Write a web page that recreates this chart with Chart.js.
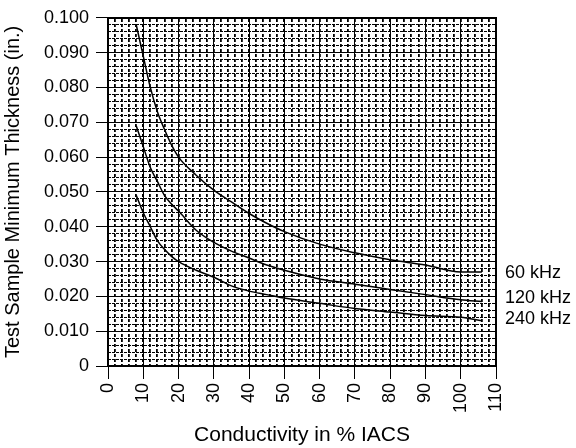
<!DOCTYPE html>
<html>
<head>
<meta charset="utf-8">
<script src="https://cdn.jsdelivr.net/npm/chart.js@4.4.1/dist/chart.umd.min.js"></script>
<style>
  body { margin: 0; background: #fff; }
</style>
</head>
<body>
<canvas id="thickChart" width="576" height="448"></canvas>
<script>
// conductivity (% IACS) sample points
var xVals = [8, 10, 12, 14, 16, 18, 20, 25, 30, 35, 40, 45, 50, 60, 70, 80, 90, 100, 106];
// minimum thickness (in.) for each frequency
var thick60 = [0.098, 0.089, 0.080, 0.073, 0.068, 0.0635, 0.060, 0.0548, 0.0505, 0.0471, 0.0438, 0.041, 0.0386, 0.035, 0.0325, 0.0305, 0.029, 0.027, 0.027];
var thick120 = [0.069, 0.063, 0.057, 0.053, 0.049, 0.0465, 0.0445, 0.039, 0.0355, 0.033, 0.031, 0.029, 0.0275, 0.025, 0.0235, 0.022, 0.0205, 0.019, 0.0185];
var thick240 = [0.049, 0.044, 0.040, 0.036, 0.0335, 0.0315, 0.030, 0.0275, 0.0255, 0.023, 0.0215, 0.0205, 0.0195, 0.018, 0.0165, 0.0155, 0.0145, 0.014, 0.013];
var seriesNames = ['60 kHz', '120 kHz', '240 kHz'];
// where the right-hand labels sit (y value)
var labelAt = [0.0267, 0.0194, 0.0136];

function pts(ys) {
    return xVals.map((x, i) => ({ x: x, y: ys[i] }));
}

function mkSet(ys) {
    return {
        data: pts(ys),
        borderColor: '#000',
        borderWidth: 1.5,
        pointRadius: 0,
        fill: false,
        cubicInterpolationMode: 'monotone'
    };
}

const font = 'Liberation Sans, Arial, sans-serif';

// labels at the right of the plot
const sideLabels = {
    id: 'sideLabels',
    afterDatasetsDraw(chart) {
        var c = chart.ctx;
        var yScale = chart.scales.y;
        c.save();
        c.fillStyle = '#000';
        c.font = '18px ' + font;
        c.textAlign = 'left';
        c.textBaseline = 'middle';
        seriesNames.forEach((n, i) => {
            c.fillText(n, chart.chartArea.right + 9, yScale.getPixelForValue(labelAt[i]));
        });
        c.restore();
    }
};

const ctx = document.getElementById('thickChart');
const lineChart = new Chart(ctx, {
    type: 'line',
    data: {
        datasets: [mkSet(thick60), mkSet(thick120), mkSet(thick240)]
    },
    plugins: [sideLabels],
    options: {
        responsive: false,
        animation: false,
        layout: { padding: { left: 0, right: 80, top: 13, bottom: 0 } },
        plugins: {
            legend: { display: false },
            tooltip: { enabled: false }
        },
        scales: {
            x: {
                type: 'linear',
                position: 'bottom',
                min: 0,
                max: 110,
                ticks: {
                    stepSize: 10,
                    minRotation: 90,
                    maxRotation: 90,
                    padding: 4,
                    color: '#000',
                    font: { size: 18, family: font }
                },
                grid: { color: '#000', lineWidth: 1, tickLength: 13, tickColor: '#000' },
                border: { display: true, color: '#000', width: 2 },
                title: {
                    display: true,
                    text: 'Conductivity in % IACS',
                    color: '#000',
                    font: { size: 21, family: font },
                    padding: { top: 0, bottom: 0 }
                },
                afterFit(s) { s.height = 82; }
            },
            x2: {
                type: 'linear',
                position: 'top',
                min: 0,
                max: 110,
                ticks: { display: false, stepSize: 2 },
                grid: { color: '#000', lineWidth: 1.8, drawTicks: false },
                border: { display: true, color: '#000', width: 2, dash: [3, 2] },
                afterFit(s) { s.height = 0; }
            },
            y: {
                type: 'linear',
                position: 'left',
                min: 0,
                max: 0.1,
                ticks: {
                    stepSize: 0.01,
                    padding: 7,
                    color: '#000',
                    font: { size: 18, family: font },
                    callback: (v) => v === 0 ? '0' : v.toFixed(3)
                },
                grid: { color: '#000', lineWidth: 1, tickLength: 12, tickColor: '#000' },
                border: { display: true, color: '#000', width: 2 },
                title: {
                    display: true,
                    text: 'Test Sample Minimum Thickness (in.)',
                    color: '#000',
                    font: { size: 20, family: font },
                    padding: { top: 1, bottom: 0 }
                },
                afterFit(s) { s.width = 108; }
            },
            y2: {
                type: 'linear',
                position: 'right',
                min: 0,
                max: 0.1,
                ticks: { display: false, stepSize: 0.002 },
                grid: { color: '#000', lineWidth: 1, drawTicks: false },
                border: { display: true, color: '#000', width: 2, dash: [3, 1] },
                afterFit(s) { s.width = 0; }
            }
        }
    }
});
</script>
</body>
</html>
